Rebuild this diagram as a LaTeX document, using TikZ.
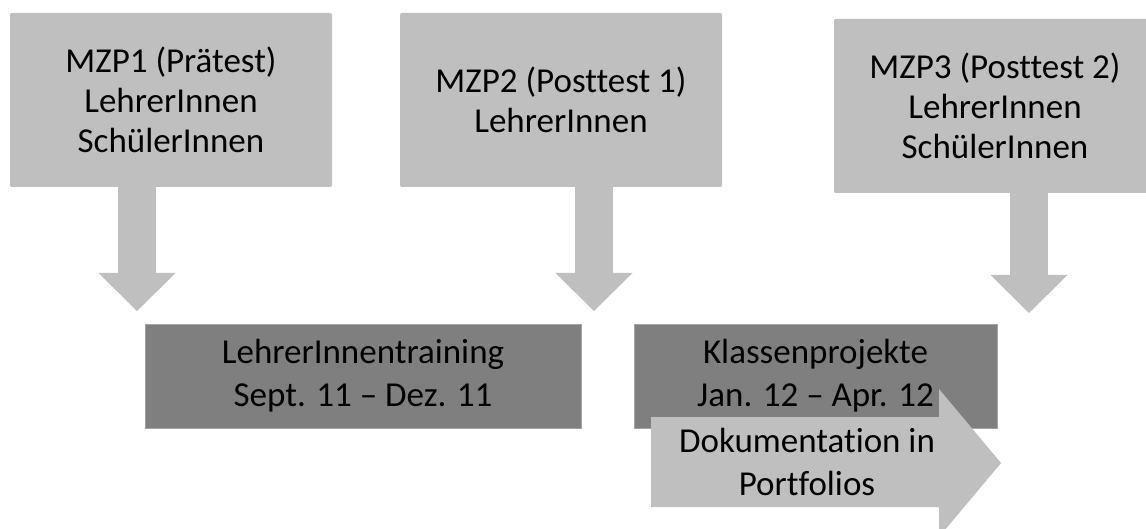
\documentclass[tikz,border=0pt]{standalone}
\usepackage{fontspec}
\setmainfont{Carlito}[Ligatures={NoCommon}]
\usetikzlibrary{arrows.meta}
\definecolor{lightgrey}{RGB}{191,191,191}
\definecolor{darkgrey}{RGB}{127,127,127}

\begin{document}
\begin{tikzpicture}[x=1pt,y=-1pt]
	\clip (0,0) rectangle (1146,529);
	\begin{scope}[every node/.style = {fill=lightgrey, rounded corners=2pt, inner sep=0pt,
			minimum width=322pt, minimum height=174pt, align=center,
			font=\fontsize{35}{40}\selectfont}]
		\node (M1) at (171,100) {MZP1 (Prätest)\\LehrerInnen\\SchülerInnen};
		\node (M2) at (561,100) {MZP2 (Posttest 1)\\LehrerInnen};
		\node (M3) at (995,106) {MZP3 (Posttest 2)\\LehrerInnen\\SchülerInnen};
	\end{scope}
	\begin{scope}[every node/.style = {fill=darkgrey, draw=lightgrey!60!darkgrey, inner sep=0pt,
			minimum height=104pt, align=center,
			font=\fontsize{35}{43}\selectfont}]
		\node (T) at (363,376) [minimum width=436pt] {LehrerInnentraining\\Sept. 11 – Dez. 11};
		\node (K) at (815.5,376) [minimum width=363pt] {Klassenprojekte\\Jan. 12 – Apr. 12};
	\end{scope}
		\coordinate (E1) at (137,311);
		\coordinate (E2) at (594,311);
		\coordinate (E3) at (1029,313);
	\begin{scope}[every path/.style = {draw=lightgrey, line width=38pt},
			>={Triangle[length=38pt, width=77pt, line width=0pt 0 0, fill=lightgrey]}]
		\path [->] (M1.south -| E1) -- (E1);
		\path [->] (M2.south -| E2) -- (E2);
		\path [->] (M3.south -| E3) -- (E3);
	\end{scope}
	% Dokumentation arrow
	\fill [lightgrey] (651,417) -- (939,417) -- (939,389) -- (1001,463)
		-- (939,537) -- (939,507) -- (651,507) -- cycle;
	\node (D) at (807,462) [align=center, font=\fontsize{35}{43}\selectfont]
		{Dokumentation in\\Portfolios};
\end{tikzpicture}
\end{document}
